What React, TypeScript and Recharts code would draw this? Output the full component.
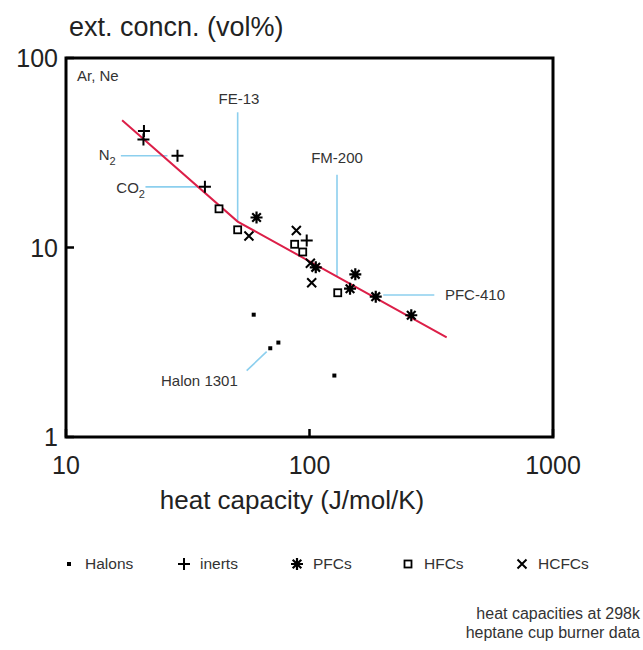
import React from 'react';
import { ScatterChart, Scatter, XAxis, YAxis, ReferenceArea, ReferenceLine, ReferenceDot } from 'recharts';

const xTicks = [10, 100, 1000];
const yTicks = [1, 10, 100];

// [heat capacity (J/mol/K), ext. concn. (vol%)]
const halons = [[59.0, 4.42], [69.0, 2.94], [74.5, 3.15], [126.5, 2.11]];
const inerts = [[20.9, 41.2], [20.8, 37.2], [28.7, 30.5], [37.2, 20.9], [97.4, 10.9]];
const pfcs = [[60.6, 14.4], [106.1, 7.86], [146.7, 6.06], [154.2, 7.22], [187.1, 5.5], [261.8, 4.39]];
const hfcs = [[42.5, 16.0], [50.7, 12.4], [86.9, 10.4], [93.8, 9.47], [130.6, 5.77]];
const hcfcs = [[56.4, 11.5], [88.3, 12.3], [100.8, 8.25], [102.1, 6.52]];
const fitLine = [[17.0, 46.9], [50.7, 13.7], [365.9, 3.36]];

// leader lines for the named agents
const leaders = [
    [[16.8, 30.5], [26.1, 30.5]],
    [[21.2, 20.9], [34.9, 20.9]],
    [[50.7, 51.7], [50.7, 13.6]],
    [[129.7, 24.2], [129.7, 7.0]],
    [[200.9, 5.61], [325.5, 5.61]],
    [[55.2, 2.24], [66.7, 2.82]],
];

const notes = [
    { text: 'Ar, Ne', sub: '', x: 11.1, y: 80.4, anchor: 'start' },
    { text: 'N', sub: '2', x: 16.0, y: 31.1, anchor: 'end' },
    { text: 'CO', sub: '2', x: 21.1, y: 20.7, anchor: 'end' },
    { text: 'FE-13', sub: '', x: 51.3, y: 61.0, anchor: 'middle' },
    { text: 'FM-200', sub: '', x: 129.7, y: 29.8, anchor: 'middle' },
    { text: 'PFC-410', sub: '', x: 360, y: 5.61, anchor: 'start' },
    { text: 'Halon 1301', sub: '', x: 35.3, y: 1.98, anchor: 'middle' },
];

const legendItems = ['Halons', 'inerts', 'PFCs', 'HFCs', 'HCFCs'];
const footnotes = ['heat capacities at 298k', 'heptane cup burner data'];

const RED = '#dc1f48';
const BLUE = '#8ccfee';
const FONT = '"Liberation Sans", Arial, sans-serif';

const toXY = (pts: number[][]) => pts.map(([x, y]) => ({ x, y }));

const Marker = ({ kind, cx, cy }: { kind: string; cx: number; cy: number }) => {
    if (kind === 'Halons') return <rect x={cx - 2} y={cy - 2} width={4} height={4} fill="#000" />;
    if (kind === 'inerts')
        return <path d={`M${cx - 6},${cy}H${cx + 6}M${cx},${cy - 6}V${cy + 6}`} stroke="#000" strokeWidth={2} />;
    if (kind === 'PFCs')
        return (
            <path
                d={`M${cx - 6},${cy}H${cx + 6}M${cx},${cy - 6}V${cy + 6}M${cx - 4.3},${cy - 4.3}L${cx + 4.3},${cy + 4.3}M${cx - 4.3},${cy + 4.3}L${cx + 4.3},${cy - 4.3}`}
                stroke="#000"
                strokeWidth={2.2}
            />
        );
    if (kind === 'HFCs')
        return <rect x={cx - 3.5} y={cy - 3.5} width={7} height={7} fill="#fff" stroke="#000" strokeWidth={1.8} />;
    return <path d={`M${cx - 4.5},${cy - 4.5}L${cx + 4.5},${cy + 4.5}M${cx - 4.5},${cy + 4.5}L${cx + 4.5},${cy - 4.5}`} stroke="#000" strokeWidth={2} />;
};

const XTick = ({ x, y, payload }: any) => (
    <g>
        <line x1={x} y1={y} x2={x} y2={y - 8} stroke="#000" strokeWidth={2.5} />
        <text x={x} y={y + 37} textAnchor="middle" fontSize={25} fontFamily={FONT} fill="#222">{payload.value}</text>
    </g>
);

const YTick = ({ x, y, payload }: any) => (
    <g>
        <line x1={x} y1={y} x2={x + 8} y2={y} stroke="#000" strokeWidth={2.5} />
        <text x={x - 8} y={y + 9} textAnchor="end" fontSize={25} fontFamily={FONT} fill="#222">{payload.value}</text>
    </g>
);

const series: [string, number[][]][] = [
    ['Halons', halons],
    ['inerts', inerts],
    ['PFCs', pfcs],
    ['HFCs', hfcs],
    ['HCFCs', hcfcs],
];

const legendX = [69, 184, 297, 408, 522];

export default function App() {
    return (
        <div style={{ position: 'absolute', left: 0, top: 0, width: 643, height: 650, background: '#fff', fontFamily: FONT, color: '#333' }}>
            <ScatterChart width={643} height={650} margin={{ top: 58, right: 90, bottom: 173, left: 0 }}>
                <XAxis
                    type="number"
                    dataKey="x"
                    scale="log"
                    domain={[10, 1000]}
                    ticks={xTicks}
                    axisLine={false}
                    tickLine={false}
                    tickSize={0}
                    tickMargin={0}
                    height={40}
                    tick={<XTick />}
                    allowDataOverflow
                />
                <YAxis
                    type="number"
                    dataKey="y"
                    scale="log"
                    domain={[1, 100]}
                    ticks={yTicks}
                    axisLine={false}
                    tickLine={false}
                    tickSize={0}
                    tickMargin={0}
                    width={66}
                    tick={<YTick />}
                    allowDataOverflow
                />
                {leaders.map((seg, i) => (
                    <ReferenceLine
                        key={'l' + i}
                        segment={[{ x: seg[0][0], y: seg[0][1] }, { x: seg[1][0], y: seg[1][1] }]}
                        stroke={BLUE}
                        strokeWidth={1.6}
                    />
                ))}
                <Scatter
                    data={toXY(fitLine)}
                    line={{ stroke: RED, strokeWidth: 2 }}
                    lineType="joint"
                    shape={() => <g />}
                    isAnimationActive={false}
                />
                {series.map(([name, pts]) => (
                    <Scatter
                        key={name}
                        name={name}
                        data={toXY(pts)}
                        shape={(p: any) => <Marker kind={name} cx={p.cx} cy={p.cy} />}
                        isAnimationActive={false}
                    />
                ))}
                {notes.map((n) => (
                    <ReferenceDot
                        key={n.text}
                        x={n.x}
                        y={n.y}
                        r={0}
                        shape={(p: any) => (
                            <text x={p.cx} y={p.cy} dy="0.36em" textAnchor={n.anchor} fontSize={15} fontFamily={FONT} fill="#333">
                                {n.text}
                                {n.sub && <tspan dy={5} fontSize={11}>{n.sub}</tspan>}
                            </text>
                        )}
                    />
                ))}
                <ReferenceArea x1={10} x2={1000} y1={1} y2={100} fill="none" stroke="#000" strokeWidth={3} ifOverflow="visible" />
            </ScatterChart>

            <div style={{ position: 'absolute', left: 69, top: 12, fontSize: 27, lineHeight: '30px', whiteSpace: 'nowrap', color: '#222' }}>
                ext. concn. (vol%)
            </div>
            <div style={{ position: 'absolute', left: 292, top: 485, transform: 'translateX(-50%)', fontSize: 26, lineHeight: '30px', whiteSpace: 'nowrap', color: '#222' }}>
                heat capacity (J/mol/K)
            </div>

            {legendItems.map((name, i) => (
                <div key={name} style={{ position: 'absolute', left: legendX[i] - 8, top: 555, height: 18, display: 'flex', alignItems: 'center', whiteSpace: 'nowrap' }}>
                    <svg width={16} height={16} style={{ display: 'block' }}>
                        <Marker kind={name} cx={8} cy={8} />
                    </svg>
                    <span style={{ marginLeft: 8, fontSize: 15.5, lineHeight: '18px' }}>{name}</span>
                </div>
            ))}

            <div style={{ position: 'absolute', right: 3, top: 604, textAlign: 'right', fontSize: 16, lineHeight: '19px', whiteSpace: 'nowrap' }}>
                {footnotes.map((t) => (
                    <div key={t}>{t}</div>
                ))}
            </div>
        </div>
    );
}
